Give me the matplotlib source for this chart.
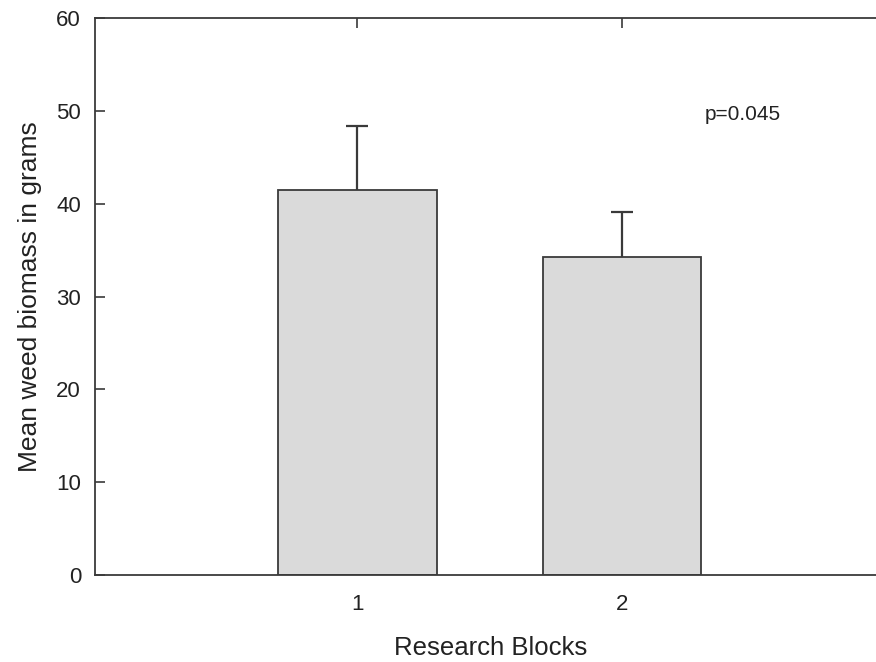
import matplotlib
matplotlib.use("Agg")
import matplotlib.pyplot as plt

plt.rcParams['font.family'] = ['Liberation Sans', 'DejaVu Sans']

blocks = [1, 2]
block_labels = ["1", "2"]
mean_biomass = [41.5, 34.3]
err_upper = [6.9, 4.8]
y_ticks = [0, 10, 20, 30, 40, 50, 60]

fig = plt.figure(figsize=(8.76, 6.62), dpi=100)
ax = fig.add_axes([0.1084, 0.1314, 0.904, 0.8414])

ax.bar(blocks, mean_biomass, width=0.6, color='#dadada', edgecolor='#3a3a3a',
       linewidth=1.3, zorder=2)
eb = ax.errorbar(blocks, mean_biomass, yerr=[[0, 0], err_upper], fmt='none',
                 ecolor='#3a3a3a', elinewidth=1.6, capsize=8, capthick=1.6, zorder=3)
# only the upper cap is drawn in the original
eb[1][0].remove()

ax.set_xlim(0.01, 3.0)
ax.set_ylim(0, 60)
ax.set_xticks(blocks)
ax.set_xticklabels(block_labels)
ax.set_yticks(y_ticks)
ax.set_axisbelow(True)
ax.tick_params(axis='both', direction='in', length=7, width=1.2, colors='#3a3a3a',
               labelcolor='#222222', labelsize=16)
ax.tick_params(axis='x', top=True, pad=14)
ax.tick_params(axis='y', pad=10)
for s in ax.spines.values():
    s.set_color('#3a3a3a')
    s.set_linewidth(1.3)

ax.set_ylabel("Mean weed biomass in grams", fontsize=19, color='#222222', labelpad=10)
ax.set_xlabel("Research Blocks", fontsize=18.5, color='#222222', labelpad=15)
ax.text(2.313, 49.6, "p=0.045", fontsize=15, color='#222222', va='center', ha='left')

fig.savefig("out.png", dpi=100)
